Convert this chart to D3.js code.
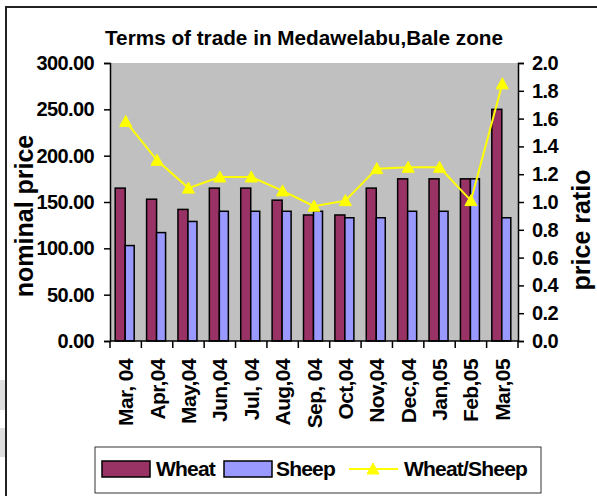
<!DOCTYPE html>
<html><head><meta charset="utf-8">
<script src="https://cdn.jsdelivr.net/npm/d3@7"></script>
<style>
html,body{margin:0;padding:0;background:#fff;}
svg{display:block;font-family:"Liberation Sans",Arial,sans-serif;font-weight:bold;}
</style></head><body>
<svg id="c" width="597" height="496"></svg>
<script>
const categories = ["Mar, 04","Apr,04","May,04","Jun,04","Jul, 04","Aug,04","Sep, 04","Oct,04","Nov,04","Dec,04","Jan,05","Feb,05","Mar,05"];
const wheat = [165, 153, 142, 165, 165, 152, 136, 136, 165, 175, 175, 175, 250];
const sheep = [103, 117, 129, 140, 140, 140, 140, 133, 133, 140, 140, 175, 133];
const ratio = [1.58, 1.30, 1.10, 1.18, 1.18, 1.08, 0.97, 1.01, 1.24, 1.25, 1.25, 1.01, 1.85];
const leftTicks = [0, 50, 100, 150, 200, 250, 300];
const rightTicks = [0, 0.2, 0.4, 0.6, 0.8, 1.0, 1.2, 1.4, 1.6, 1.8, 2.0];
const seriesNames = ["Wheat", "Sheep", "Wheat/Sheep"];
const colors = {wheat: "#993366", sheep: "#9999FF", ratio: "#FFFF00"};

const svg = d3.select("#c");
const L = 110, R = 518, T = 63, B = 341;

// faint artifacts and outer frame
svg.append("rect").attr("x",0).attr("y",380).attr("width",5).attr("height",30).attr("fill","#dedede");
svg.append("rect").attr("x",0).attr("y",428).attr("width",5).attr("height",29).attr("fill","#dedede");
svg.append("line").attr("x1",6).attr("x2",6).attr("y1",6).attr("y2",496).attr("stroke","#222").attr("stroke-width",2);
svg.append("line").attr("x1",5).attr("x2",597).attr("y1",7).attr("y2",7).attr("stroke","#222").attr("stroke-width",2);

const x = d3.scaleBand().domain(categories).range([L, R]).padding(0);
const yL = d3.scaleLinear().domain([0, 300]).range([B, T]);
const yR = d3.scaleLinear().domain([0, 2]).range([B, T]);

svg.append("rect").attr("x",L).attr("y",T).attr("width",R-L).attr("height",B-T).attr("fill","#C0C0C0");

const bw = 10;
const g = svg.append("g");
g.selectAll("rect.w").data(categories).join("rect")
  .attr("x", (d)=>x(d)+x.bandwidth()/2-bw-0.5)
  .attr("y", (d,i)=>yL(wheat[i]))
  .attr("width", bw).attr("height", (d,i)=>B-yL(wheat[i]))
  .attr("fill", colors.wheat).attr("stroke","#000").attr("stroke-width",1.5);
g.selectAll("rect.s").data(categories).join("rect")
  .attr("x", (d)=>x(d)+x.bandwidth()/2-0.5)
  .attr("y", (d,i)=>yL(sheep[i]))
  .attr("width", bw-1).attr("height", (d,i)=>B-yL(sheep[i]))
  .attr("fill", colors.sheep).attr("stroke","#000").attr("stroke-width",1.5);

// axes
const axL = svg.append("g").attr("transform",`translate(${L},0)`)
  .call(d3.axisLeft(yL).tickValues(leftTicks).tickFormat(d3.format(".2f")).tickSize(6).tickPadding(10));
const axR = svg.append("g").attr("transform",`translate(${R},0)`)
  .call(d3.axisRight(yR).tickValues(rightTicks).tickFormat(d3.format(".1f")).tickSize(6).tickPadding(8));
const axB = svg.append("g").attr("transform",`translate(0,${B})`)
  .call(d3.axisBottom(x).tickSize(0).tickFormat(d=>d));
[axL, axR, axB].forEach(a=>{
  a.selectAll("path.domain").attr("stroke","#000").attr("stroke-width",1.5);
  a.selectAll("line").attr("stroke","#000").attr("stroke-width",1.5);
  a.selectAll("text").attr("fill","#000").style("font-size","20px").style("font-weight","bold")
    .style("font-family",'"Liberation Sans",Arial,sans-serif').attr("letter-spacing","-0.6px");
});
axB.select("path.domain").attr("d", `M${L},0H${R}`);
// category boundary ticks
axB.selectAll("line.bt").data(d3.range(categories.length+1)).join("line")
  .attr("x1", i=> L + i*x.step()).attr("x2", i=> L + i*x.step())
  .attr("y1", 0).attr("y2", 7).attr("stroke","#000").attr("stroke-width",1.5);
axB.selectAll(".tick text")
  .style("font-size","21px")
  .attr("transform","rotate(-90)")
  .attr("text-anchor","end")
  .attr("x",-18).attr("y",0).attr("dy","0.36em");

// line + markers
const line = d3.line().x((d,i)=>x(categories[i])+x.bandwidth()/2).y(d=>yR(d));
svg.append("path").datum(ratio).attr("d", line).attr("fill","none").attr("stroke",colors.ratio).attr("stroke-width",2);
const tri = "M0,-6L6,5L-6,5Z";
svg.selectAll("path.m").data(ratio).join("path")
  .attr("d", tri)
  .attr("transform",(d,i)=>`translate(${x(categories[i])+x.bandwidth()/2},${yR(d)})`)
  .attr("fill",colors.ratio).attr("stroke",colors.ratio).attr("stroke-width",1);

// title
svg.append("text").attr("x",304).attr("y",45).attr("text-anchor","middle")
  .style("font-size","20px")
  .attr("textLength",398).attr("lengthAdjust","spacingAndGlyphs")
  .text("Terms of trade in Medawelabu,Bale zone");

// axis titles
svg.append("text").attr("transform","translate(33,216) rotate(-90)").attr("text-anchor","middle")
  .style("font-size","25px").text("nominal price");
svg.append("text").attr("transform","translate(590,230) rotate(-90)").attr("text-anchor","middle")
  .style("font-size","25px").text("price ratio");

// legend
const lg = svg.append("g");
lg.append("rect").attr("x",95).attr("y",447).attr("width",446).attr("height",46).attr("fill","#fff").attr("stroke","#333").attr("stroke-width",1);
lg.append("rect").attr("x",102).attr("y",461).attr("width",48).attr("height",16).attr("fill",colors.wheat).attr("stroke","#000").attr("stroke-width",1.5);
lg.append("text").attr("x",156).attr("y",476).style("font-size","21px").attr("letter-spacing","-0.8px").text(seriesNames[0]);
lg.append("rect").attr("x",224).attr("y",461).attr("width",48).attr("height",16).attr("fill",colors.sheep).attr("stroke","#000").attr("stroke-width",1.5);
lg.append("text").attr("x",276).attr("y",476).style("font-size","21px").attr("letter-spacing","-0.8px").text(seriesNames[1]);
lg.append("line").attr("x1",349).attr("x2",398).attr("y1",469).attr("y2",469).attr("stroke",colors.ratio).attr("stroke-width",2);
lg.append("path").attr("d",tri).attr("transform","translate(373,469)").attr("fill",colors.ratio).attr("stroke",colors.ratio);
lg.append("text").attr("x",404).attr("y",476).style("font-size","21px").attr("letter-spacing","-0.8px").text(seriesNames[2]);
</script>
</body></html>
